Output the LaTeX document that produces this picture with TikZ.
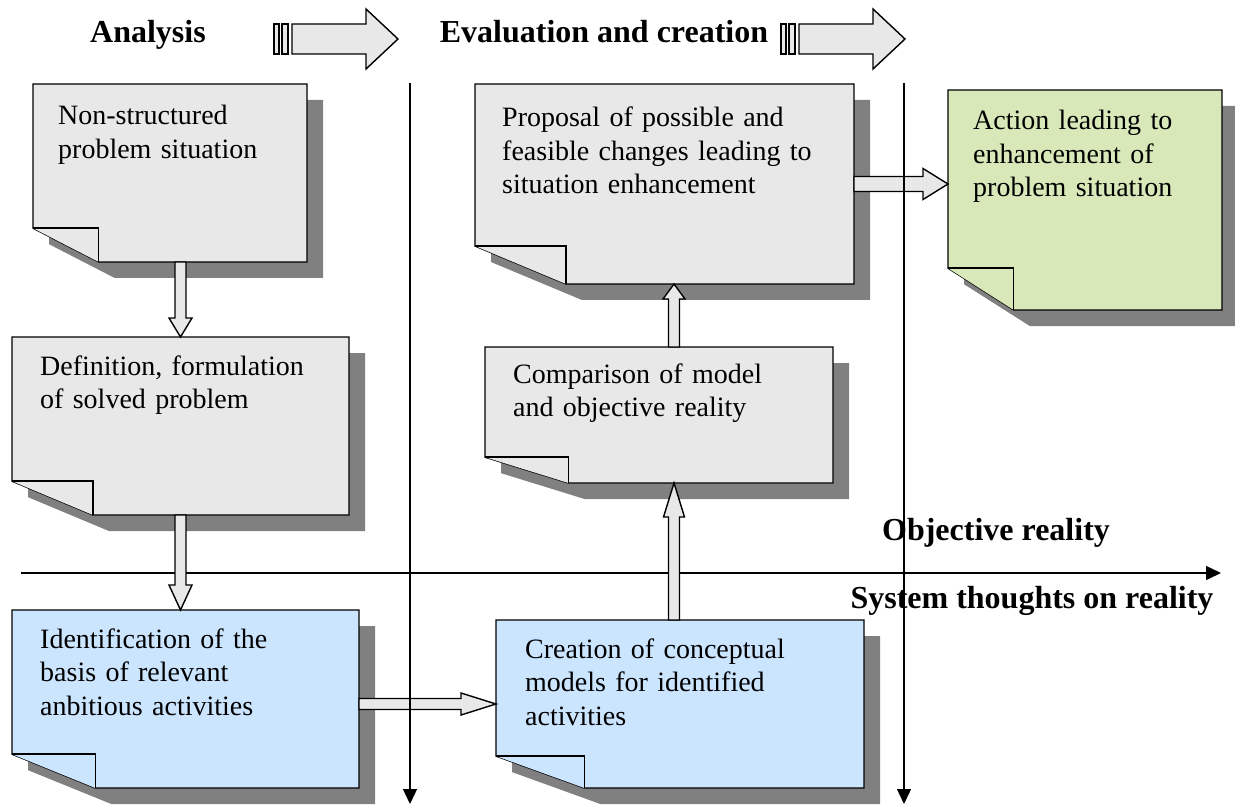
\documentclass[tikz,border=0pt]{standalone}
\usepackage{fontspec}
\setmainfont{Liberation Serif}
\usetikzlibrary{arrows.meta,calc,positioning}

\definecolor{notegray}{RGB}{232,232,232}
\definecolor{noteblue}{RGB}{204,229,255}
\definecolor{notegreen}{RGB}{216,232,185}
\definecolor{shadowgray}{RGB}{128,128,128}

\tikzset{
  note/.style={anchor=north west, inner sep=0pt, outer sep=0pt},
  notetext/.style={anchor=base west, inner sep=0pt, text width=360pt, align=left, font=\fontsize{28}{33.5}\selectfont},
  heading/.style={anchor=base, inner sep=0pt, font=\fontsize{32}{38}\selectfont\bfseries},
  fat/.style={draw=black, line width=1.4pt, fill=notegray, line join=miter},
  axis/.style={line width=1.4pt, -{Triangle[length=15pt,width=14pt]}},
}

% note paper with shadow and folded corner
\newcommand{\drawnote}[2]{%
  \coordinate (#1-fb) at ($(#1.south west)!0.24!(#1.south east)$);
  \coordinate (#1-fl) at ($(#1.south west)!0.19!(#1.north west)$);
  \coordinate (#1-fc) at (#1-fb |- #1-fl);
  \fill[shadowgray] ($(#1.north east)+(16,16)$) -- ($(#1.south east)+(16,16)$) -- ($(#1-fb)+(16,16)$) -- ($(#1-fl)+(16,16)$) -- ($(#1.north west)+(16,16)$) -- cycle;
  \draw[line width=1.4pt, fill=#2] (#1.north west) -- (#1.north east) -- (#1.south east) -- (#1-fb) -- (#1-fl) -- cycle;
  \draw[line width=1.4pt, fill=#2] (#1-fl) -- (#1-fc) -- (#1-fb);
}

% hollow block arrow: from, to, head length, shaft half width, head half width
\newcommand{\fatarrow}[5]{%
  \coordinate (fa-c) at ($(#2)!#3pt!(#1)$);
  \draw[fat] ($(#1)!#4pt!90:(#2)$) -- ($(fa-c)!#4pt!90:(#2)$) -- ($(fa-c)!#5pt!90:(#2)$) -- (#2)
    -- ($(fa-c)!#5pt!-90:(#2)$) -- ($(fa-c)!#4pt!-90:(#2)$) -- ($(#1)!#4pt!-90:(#2)$) -- cycle;
}

\begin{document}
\begin{tikzpicture}[x=1pt, y=-1pt]
    \useasboundingbox (0,0) rectangle (1235,805);

    % horizontal axis
    \coordinate (hstart) at (21,573);
    \coordinate (hend) at (1221,573);
    \draw[axis] (hstart) -- (hend);

    % process arrows at the top
    \foreach \xa in {274,781} {
        \draw[fat] (\xa,24) rectangle ++(5,30);
        \draw[fat] (\xa+8,24) rectangle ++(6,30);
        \draw[fat] (\xa+18,24) -- (\xa+92,24) -- (\xa+92,9) -- (\xa+124,39) -- (\xa+92,69) -- (\xa+92,54) -- (\xa+18,54) -- cycle;
    }

    % left column notes
    \node[note, minimum width=274pt, minimum height=178pt] (nonstruct) at (33,84) {};
    \node[note, minimum width=337pt, minimum height=178pt] (definition) at (12,337) {};
    \node[note, minimum width=347pt, minimum height=178pt] (identify) at (12,610) {};
    \drawnote{nonstruct}{notegray}
    \drawnote{definition}{notegray}
    \drawnote{identify}{noteblue}

    % middle column notes
    \node[note, minimum width=379pt, minimum height=200pt] (proposal) at (475,84) {};
    \node[note, minimum width=348pt, minimum height=136pt] (compare) at (485,347) {};
    \node[note, minimum width=368pt, minimum height=168pt] (create) at (496,620) {};
    \drawnote{proposal}{notegray}
    \drawnote{compare}{notegray}
    \drawnote{create}{noteblue}

    % right note
    \node[note, minimum width=274pt, minimum height=220pt] (action) at (948,90) {};
    \drawnote{action}{notegreen}

    % block arrows between notes
    \fatarrow{definition.north |- nonstruct.south}{definition.north}{19}{5.5}{11.5}
    \fatarrow{definition.south}{definition.south |- identify.north}{25}{5.5}{11.5}
    \coordinate (idout) at ($(identify.east)+(0,5)$);
    \fatarrow{idout}{idout -| create.west}{35}{5.5}{11}
    \coordinate (crout) at ($(create.north)+(-6,0)$);
    \fatarrow{crout}{crout |- compare.south}{34}{5.5}{10.5}
    \coordinate (cmpout) at (crout |- compare.north);
    \fatarrow{cmpout}{cmpout |- proposal.south}{15}{5.5}{11}
    \fatarrow{proposal.east}{proposal.east -| action.west}{25}{7.5}{15.5}

    % texts of the notes
    \node[notetext] (nonstruct-txt) at (58,125) {Non-structured\\problem situation};
    \node[notetext] (definition-txt) at (40,375) {Definition, formulation\\of solved problem};
    \node[notetext] (identify-txt) at (40,648) {Identification of the\\basis of relevant\\anbitious activities};
    \node[notetext] (proposal-txt) at (502,127) {Proposal of possible and\\feasible changes leading to\\situation enhancement};
    \node[notetext] (compare-txt) at (513,383) {Comparison of model\\and objective reality};
    \node[notetext] (create-txt) at (525,658) {Creation of conceptual\\models for identified\\activities};
    \node[notetext] (action-txt) at (973,130) {Action leading to\\enhancement of\\problem situation};

    % headings
    \node[heading] (analysis) at (148,43) {Analysis};
    \node[heading] (evaluation) at (604,43) {Evaluation and creation};
    \node[heading] (objective) at (996,540) {Objective reality};
    \node[heading] (systhought) at (1032,608) {System thoughts on reality};

    % vertical axes
    \coordinate (vtop1) at (410,83);
    \coordinate (vbot1) at (410,804);
    \coordinate (vtop2) at (904,83);
    \coordinate (vbot2) at (904,804);
    \draw[axis] (vtop1) -- (vbot1);
    \draw[axis] (vtop2) -- (vbot2);
\end{tikzpicture}
\end{document}
